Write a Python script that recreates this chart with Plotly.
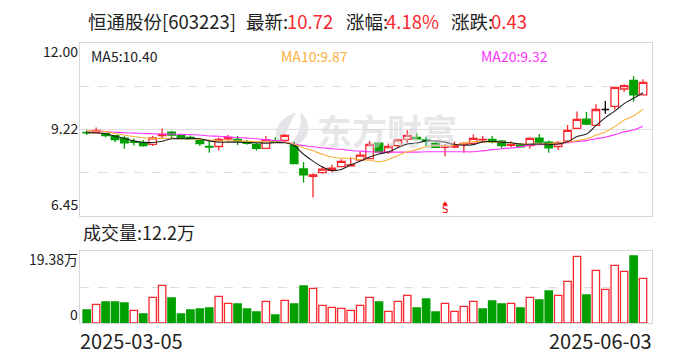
import plotly.graph_objects as go

# Values
opens  = [9.12,9.11,9.09,9.02,8.94,8.82,8.80,8.74,9.02,9.13,9.02,8.96,8.86,8.67,8.67,8.92,8.90,8.82,8.74,8.61,
          8.85,8.87,8.70,7.95,7.71,7.83,7.90,8.02,8.05,8.23,8.28,8.78,8.49,8.70,8.90,8.96,8.88,8.77,8.64,8.65,
          8.74,8.77,8.88,8.90,8.84,8.71,8.71,8.70,8.94,8.81,8.67,8.84,9.25,9.55,9.35,9.86,9.96,10.52,10.80,10.33]
highs  = [9.20,9.28,9.11,9.04,9.01,8.93,8.88,9.01,9.25,9.18,9.04,9.02,8.88,8.85,8.96,9.04,9.01,8.88,8.79,9.01,
          8.97,9.07,8.82,8.17,7.81,8.04,8.08,8.26,8.32,8.50,8.85,8.78,8.77,8.92,9.19,9.10,8.98,8.81,8.75,8.83,
          8.81,9.06,9.01,9.01,8.88,8.84,8.77,8.97,9.07,8.86,8.85,9.36,9.80,9.78,10.03,10.13,10.57,10.67,10.93,10.83]
lows   = [9.04,9.11,8.97,8.81,8.60,8.70,8.66,8.69,8.93,8.93,8.90,8.90,8.69,8.47,8.54,8.88,8.72,8.73,8.54,8.60,
          8.81,8.85,8.12,7.51,7.03,7.79,7.83,8.01,8.04,8.19,8.26,8.49,8.43,8.64,8.79,8.89,8.69,8.62,8.36,8.61,
          8.47,8.72,8.79,8.77,8.61,8.64,8.64,8.60,8.77,8.47,8.56,8.81,9.23,9.36,9.33,9.72,9.86,10.42,10.11,10.33]
closes = [9.11,9.19,9.02,8.89,8.79,8.80,8.70,8.95,9.06,9.04,8.93,8.92,8.76,8.65,8.90,8.96,8.85,8.77,8.61,8.89,
          8.82,9.03,8.12,7.76,7.76,7.94,7.97,8.19,8.08,8.39,8.74,8.49,8.67,8.88,9.03,8.92,8.86,8.64,8.66,8.72,
          8.77,8.93,8.90,8.82,8.70,8.73,8.66,8.93,8.81,8.63,8.79,9.19,9.54,9.39,9.86,9.86,10.57,10.63,10.33,10.73]
ma5  = [9.11,9.11,9.08,9.00,8.93,8.85,8.80,8.80,8.84,8.92,8.92,8.93,8.92,8.85,8.81,8.81,8.81,8.80,8.79,8.78,
        8.79,8.79,8.70,8.42,8.20,8.01,7.90,7.93,8.08,8.20,8.33,8.43,8.49,8.63,8.75,8.78,8.85,8.85,8.81,8.74,
        8.71,8.73,8.82,8.83,8.81,8.79,8.75,8.74,8.75,8.74,8.75,8.82,8.99,9.07,9.34,9.60,9.81,10.05,10.22,10.40]
ma10 = [9.18,9.17,9.15,9.09,9.04,8.99,8.95,8.93,8.93,8.94,8.92,8.92,8.90,8.88,8.85,8.85,8.85,8.84,8.83,8.82,
        8.81,8.81,8.74,8.63,8.53,8.42,8.33,8.29,8.29,8.24,8.23,8.18,8.25,8.38,8.50,8.57,8.66,8.70,8.70,8.72,
        8.77,8.83,8.82,8.82,8.81,8.78,8.75,8.75,8.75,8.76,8.78,8.81,8.86,8.91,9.03,9.14,9.31,9.52,9.66,9.87]
ma20 = [9.17,9.16,9.15,9.13,9.11,9.10,9.09,9.08,9.07,9.07,9.06,9.05,9.04,9.01,9.00,8.98,8.96,8.94,8.92,8.89,
        8.86,8.83,8.75,8.70,8.66,8.63,8.60,8.58,8.54,8.52,8.50,8.49,8.49,8.49,8.49,8.49,8.50,8.50,8.50,8.50,
        8.50,8.50,8.53,8.57,8.60,8.62,8.66,8.71,8.73,8.74,8.76,8.79,8.83,8.86,8.92,8.97,9.05,9.14,9.20,9.32]
volumes = [7.0,10.05,11.3,11.3,10.76,6.82,4.84,13.81,20.27,13.46,4.84,7.0,7.53,8.07,14.35,10.58,10.23,7.53,5.92,11.66,
           4.31,12.2,10.23,19.91,18.66,9.51,8.43,7.89,6.82,9.51,13.81,11.3,6.28,11.66,14.89,8.07,12.92,5.92,10.58,6.28,
           8.97,11.66,7.53,11.84,10.23,10.58,8.07,13.81,12.38,17.22,14.89,22.43,35.88,15.07,28.35,18.12,31.04,27.81,36.06,24.04]
vol_up = [0,1,0,0,0,1,0,1,1,0,0,0,0,0,1,1,0,0,0,1,
          0,1,0,0,1,1,1,1,1,1,1,0,1,1,1,0,0,0,1,1,
          1,1,0,0,0,1,0,1,0,0,1,1,1,0,1,1,1,1,0,1]
price_ticks = ["12.00", "9.22", "6.45"]
vol_ticks = ["19.38万", "0"]
date_labels = ["2025-03-05", "2025-06-03"]

W, H = 688, 360
RED, GREEN, FRAME, INK = "#f8282e", "#00a000", "#d6d6dc", "#222222"
MARK = "#e5e5e9"
FONT = "Noto Sans CJK SC"
L, R = 80, 651.5
px = lambda v: v / W
py = lambda v: 1 - v / H

xs = list(range(len(opens)))
pick = lambda seq, idx: [seq[i] for i in idx]
up = [i for i in xs if closes[i] > opens[i]]
down = [i for i in xs if closes[i] < opens[i]]
flat = [i for i in xs if closes[i] == opens[i]]

fig = go.Figure()

def candle(idx, color, fill):
    fig.add_trace(go.Candlestick(
        x=idx, open=pick(opens, idx), high=pick(highs, idx), low=pick(lows, idx), close=pick(closes, idx),
        increasing=dict(line=dict(color=color, width=1.3), fillcolor=fill),
        decreasing=dict(line=dict(color=color, width=1.3), fillcolor=fill),
        whiskerwidth=0, xaxis="x", yaxis="y", showlegend=False))

candle(up, RED, "white")
candle(down, GREEN, GREEN)
candle(flat, "#000000", "#000000")

for vals, col in [(ma20, "#ff33ff"), (ma10, "#fbb03b"), (ma5, "#222222")]:
    fig.add_trace(go.Scatter(x=xs, y=vals, mode="lines", line=dict(color=col, width=1.1, shape="spline"),
                             xaxis="x", yaxis="y", showlegend=False))

fig.add_trace(go.Scatter(x=[38], y=[6.82], mode="markers", marker=dict(symbol="triangle-up", size=5, color="#f00000"),
                         xaxis="x", yaxis="y", showlegend=False))

fig.add_trace(go.Bar(
    x=xs, y=volumes, width=0.78, xaxis="x2", yaxis="y2", showlegend=False,
    marker=dict(color=["white" if u else GREEN for u in vol_up],
                line=dict(color=[RED if u else GREEN for u in vol_up], width=1.3))))

axis = dict(showline=True, mirror=True, linecolor=FRAME, linewidth=1, zeroline=False, ticks="", showticklabels=False)
fig.update_layout(
    width=W, height=H, margin=dict(l=0, r=0, t=0, b=0), paper_bgcolor="white", plot_bgcolor="white",
    boxmode="overlay", boxgap=0.2, boxgroupgap=0, bargap=0.2, showlegend=False, hovermode=False,
    xaxis=dict(axis, domain=[px(L), px(R)], range=[-0.71, 59.9], anchor="y", showgrid=False, rangeslider=dict(visible=False)),
    xaxis2=dict(axis, domain=[px(L), px(R)], range=[-0.71, 59.9], anchor="y2", showgrid=False),
    yaxis=dict(axis, domain=[py(215.5), py(43)], range=[6.45, 12.0], anchor="x", showgrid=True, griddash="dash",
               gridcolor="#dddddd", gridwidth=1, tickvals=[7.835, 10.605]),
    yaxis2=dict(axis, domain=[py(323), py(251)], range=[0, 38.76], anchor="x2", showgrid=True, griddash="dash",
                gridcolor="#dddddd", gridwidth=1, tickvals=[19.38]),
)

# Solid centre line
fig.add_shape(type="line", xref="x domain", yref="y", x0=0, x1=1, y0=9.22, y1=9.22, line=dict(color="#dddddd", width=1), layer="below")

# Watermark logo
def path(cmds):
    out = []
    for c in cmds:
        if isinstance(c, str):
            out.append(c)
        else:
            out.append(f"{px(c[0]):.5f} {py(c[1]):.5f}")
    return " ".join(out)
leaf1 = ["M",(300,112),"C",(310,120),(312,135),(300,143),"C",(295,146),(290,147),(287,146),"C",(298,138),(303,125),(300,112),"Z"]
leaf2 = ["M",(296,113),"C",(285,115),(275,125),(276,137),"C",(277,141),(279,144),(282,145),"C",(285,135),(290,122),(296,113),"Z"]
for lf in (leaf1, leaf2):
    fig.add_shape(type="path", xref="paper", yref="paper", path=path(lf), fillcolor=MARK, line=dict(width=0), layer="below")

def note(text, x, y, size, color=INK, anchor="left", weight=None, opacity=None):
    fig.add_annotation(text=text, x=px(x), y=py(y), xref="paper", yref="paper", xanchor=anchor, yanchor="middle",
                       showarrow=False, font=dict(family=FONT, size=size, color=color, weight=weight),
                       borderpad=0, borderwidth=0, opacity=opacity)

note("恒通股份[603223]", 88, 21, 18.5)
note("最新:", 246, 21, 18.5)
note("10.72", 287, 21, 18.5, RED)
note("涨幅:", 346, 21, 18.5)
note("4.18%", 386, 21, 18.5, RED)
note("涨跌:", 451, 21, 18.5)
note("0.43", 491, 21, 18.5, RED)
note("MA5:10.40", 91, 56, 14)
note("MA10:9.87", 281, 56, 14, "#fbb03b")
note("MA20:9.32", 481, 56, 14, "#ff33ff")
note(price_ticks[0], 78, 51, 14, anchor="right")
note(price_ticks[1], 78, 128, 14, anchor="right")
note(price_ticks[2], 78, 204, 14, anchor="right")
note("成交量:12.2万", 83, 232, 18)
note(vol_ticks[0], 78, 259, 14, anchor="right")
note(vol_ticks[1], 78, 314, 14, anchor="right")
note(date_labels[0], 80, 340, 20)
note(date_labels[1], 652, 340, 20, anchor="right")
note("东方财富", 317, 129, 35, "rgba(210,210,216,0.55)", weight=700)
fig.add_annotation(text="S", x=38, y=6.63, xref="x", yref="y", showarrow=False, yanchor="middle",
                   font=dict(family="DejaVu Sans Mono", size=11, color="#f00000"))

fig.write_html("out.html", post_script="document.body.style.margin='0';", config={"displayModeBar": False})
